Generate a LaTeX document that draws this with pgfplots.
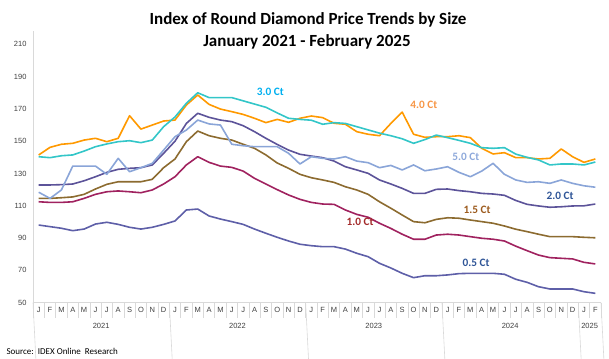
\documentclass[border=0pt]{standalone}
\usepackage{pgfplots}
\pgfplotsset{compat=1.18}
\usepackage{pgfplotstable}
\usepackage{fontspec}
\setmainfont{Carlito}
\newfontfamily\arialf{Liberation Sans}
\definecolor{cThree}{HTML}{33C6C8}
\definecolor{cFour}{HTML}{FF9900}
\definecolor{cFive}{HTML}{8AA5D8}
\definecolor{cTwo}{HTML}{5C5399}
\definecolor{cOneFive}{HTML}{8C6B30}
\definecolor{cOne}{HTML}{A0225F}
\definecolor{cHalf}{HTML}{5E5FA8}
\definecolor{lThree}{HTML}{00B0F0}
\definecolor{lFour}{HTML}{F79646}
\definecolor{lFive}{HTML}{8EA9DB}
\definecolor{lBlue}{HTML}{2F5597}
\definecolor{lBrown}{HTML}{9C5B1E}
\definecolor{lRed}{HTML}{A32A2A}
\definecolor{gridg}{HTML}{D9D9D9}
\definecolor{tickt}{HTML}{404040}

\pgfplotstableread{
i c30 c40 c50 c20 c15 c10 c05
0 140.4 141.5 118.4 122.9 114.6 112.5 98.1
1 139.8 146.2 114.6 122.9 114.6 112.1 97.1
2 141.0 148.1 119.8 123.1 115.0 112.1 96.1
3 141.5 148.7 134.6 123.5 115.5 112.5 94.6
4 143.9 150.7 134.6 125.5 117.1 114.6 95.6
5 146.6 151.8 134.6 128.0 120.4 117.1 98.7
6 148.3 149.7 129.5 130.7 123.3 118.7 99.8
7 149.7 151.8 139.4 132.6 124.9 119.2 98.5
8 150.3 165.8 131.1 133.2 124.9 118.7 96.7
9 149.1 157.5 133.6 133.6 124.9 118.1 95.6
10 150.7 160.0 136.3 135.3 126.4 119.8 96.7
11 159.0 162.5 144.5 142.5 133.6 123.5 98.5
12 165.0 163.1 152.8 150.0 139.0 128.0 100.6
13 173.5 172.4 156.9 161.0 149.7 135.3 107.4
14 180.0 178.6 163.1 167.3 156.3 140.4 108.0
15 177.0 172.8 160.7 164.8 153.4 136.9 103.7
16 177.0 169.9 160.0 163.1 151.8 134.6 101.8
17 177.0 168.3 148.1 162.1 150.7 133.8 100.2
18 175.0 166.6 147.2 159.6 148.1 131.5 98.5
19 173.0 164.2 146.6 155.9 145.6 127.0 95.6
20 171.0 161.5 146.6 151.8 141.5 123.5 93.0
21 167.5 163.5 146.6 148.0 136.5 120.0 90.5
22 164.2 161.7 142.5 144.5 133.2 116.7 88.2
23 163.5 164.2 135.9 141.9 129.5 114.0 86.2
24 163.0 165.6 140.4 140.8 127.4 112.1 85.3
25 160.5 164.6 139.4 139.8 126.0 111.1 84.7
26 161.5 161.1 139.0 137.7 124.5 110.9 84.7
27 161.0 160.5 140.4 134.2 121.8 107.4 83.2
28 159.0 155.9 137.7 132.2 119.8 104.7 80.6
29 157.0 154.3 136.7 130.1 117.1 102.9 78.5
30 155.0 153.4 133.6 126.0 112.5 99.2 74.4
31 153.4 161.0 135.0 123.5 108.5 96.0 71.5
32 151.5 168.0 132.2 120.8 104.3 92.4 68.2
33 148.7 154.3 135.3 117.7 100.2 89.3 65.5
34 151.0 152.4 131.7 117.7 99.5 89.3 66.7
35 153.8 152.8 132.8 120.2 101.6 91.9 66.7
36 152.2 152.8 134.2 120.4 102.6 92.4 67.2
37 150.5 153.4 130.7 119.4 102.3 91.9 68.0
38 148.7 152.2 128.0 118.7 101.2 90.9 68.2
39 146.0 145.6 131.5 117.7 100.2 89.9 68.2
40 145.6 142.1 136.3 117.3 99.2 89.3 68.2
41 146.0 142.9 129.5 116.5 97.5 88.2 67.6
42 142.0 139.8 126.0 113.3 95.5 85.0 64.5
43 140.0 139.8 124.5 110.9 94.0 82.2 62.6
44 138.4 139.0 124.9 109.9 92.4 79.5 59.9
45 135.3 139.4 123.9 109.1 90.9 77.9 58.5
46 135.9 145.2 126.0 109.4 90.9 77.5 58.5
47 135.9 140.4 123.9 109.9 90.9 77.1 58.5
48 135.3 136.9 122.4 110.0 90.5 75.0 56.8
49 137.1 139.0 121.5 111.1 90.2 74.0 55.8
}\data

\begin{document}
\begin{tikzpicture}[x=1pt,y=1pt]
\useasboundingbox (0,0) rectangle (609,358);
\node[anchor=base, font=\bfseries\fontsize{17}{20}\selectfont] at (308,333) {Index of Round Diamond Price Trends by Size};
\node[anchor=base, font=\bfseries\fontsize{17}{20}\selectfont] at (307,311.5) {January 2021 - February 2025};
\node[anchor=west, font=\fontsize{9}{10}\selectfont] at (3,7) {Source:\ \ IDEX Online\ \ Research};
\begin{axis}[
  at={(33pt,55.3pt)}, anchor=south west,
  scale only axis, width=568pt, height=271.3pt,
  xmin=-0.5, xmax=49.5, ymin=50, ymax=218,
  clip=false,
  axis lines*=left,
  axis line style={draw=gridg, line width=1pt},
  xtick={0,...,49},
  xticklabels={J,F,M,A,M,J,J,A,S,O,N,D,J,F,M,A,M,J,J,A,S,O,N,D,J,F,M,A,M,J,J,A,S,O,N,D,J,F,M,A,M,J,J,A,S,O,N,D,J,F},
  minor xtick={-0.5,0.5,...,49.5},
  major tick length=0pt,
  minor tick length=15pt,
  tick align=outside,
  minor tick style={draw=gridg, line width=0.6pt},
  ytick={50,70,...,210},
  /pgf/number format/assume math mode=true,
  ticklabel style={font=\arialf\fontsize{7.5}{9}\selectfont, text=tickt},
  xticklabel style={yshift=-1pt},
  yticklabel style={xshift=-3pt},
  every axis plot/.append style={line width=1.6pt, mark=none, line join=round},
]
\addplot[cHalf] table[x=i,y=c05] {\data};
\addplot[cOne] table[x=i,y=c10] {\data};
\addplot[cOneFive] table[x=i,y=c15] {\data};
\addplot[cTwo] table[x=i,y=c20] {\data};
\addplot[cFive] table[x=i,y=c50] {\data};
\addplot[cFour] table[x=i,y=c40] {\data};
\addplot[cThree] table[x=i,y=c30] {\data};

\draw[gridg, line width=0.6pt] (axis cs:-0.5,50) -- ++(0,-31pt);
\draw[gridg, line width=0.6pt] (axis cs:11.5,50) -- ++(0,-31pt);
\draw[gridg, line width=0.6pt] (axis cs:23.5,50) -- ++(0,-31pt);
\draw[gridg, line width=0.6pt] (axis cs:35.5,50) -- ++(0,-31pt);
\draw[gridg, line width=0.6pt] (axis cs:47.5,50) -- ++(0,-31pt);
\draw[gridg, line width=0.6pt] (axis cs:49.5,50) -- ++(0,-31pt);
\node[font=\arialf\fontsize{7.5}{9}\selectfont, text=tickt, yshift=-23pt] at (axis cs:5.5,50) {2021};
\node[font=\arialf\fontsize{7.5}{9}\selectfont, text=tickt, yshift=-23pt] at (axis cs:17.5,50) {2022};
\node[font=\arialf\fontsize{7.5}{9}\selectfont, text=tickt, yshift=-23pt] at (axis cs:29.5,50) {2023};
\node[font=\arialf\fontsize{7.5}{9}\selectfont, text=tickt, yshift=-23pt] at (axis cs:41.5,50) {2024};
\node[font=\arialf\fontsize{7.5}{9}\selectfont, text=tickt, yshift=-23pt] at (axis cs:48.5,50) {2025};
\node[font=\bfseries\fontsize{11.3}{13}\selectfont, text=lThree] at (axis cs:20.4,180.5) {3.0 Ct};
\node[font=\bfseries\fontsize{11.3}{13}\selectfont, text=lFour] at (axis cs:33.9,172.4) {4.0 Ct};
\node[font=\bfseries\fontsize{11.3}{13}\selectfont, text=lFive] at (axis cs:37.6,140.4) {5.0 Ct};
\node[font=\bfseries\fontsize{11.3}{13}\selectfont, text=lBlue] at (axis cs:45.9,116.1) {2.0 Ct};
\node[font=\bfseries\fontsize{11.3}{13}\selectfont, text=lBrown] at (axis cs:38.6,107.4) {1.5 Ct};
\node[font=\bfseries\fontsize{11.3}{13}\selectfont, text=lRed] at (axis cs:28.3,100.2) {1.0 Ct};
\node[font=\bfseries\fontsize{11.3}{13}\selectfont, text=lBlue] at (axis cs:38.5,74.4) {0.5 Ct};
\end{axis}
\end{tikzpicture}
\end{document}
